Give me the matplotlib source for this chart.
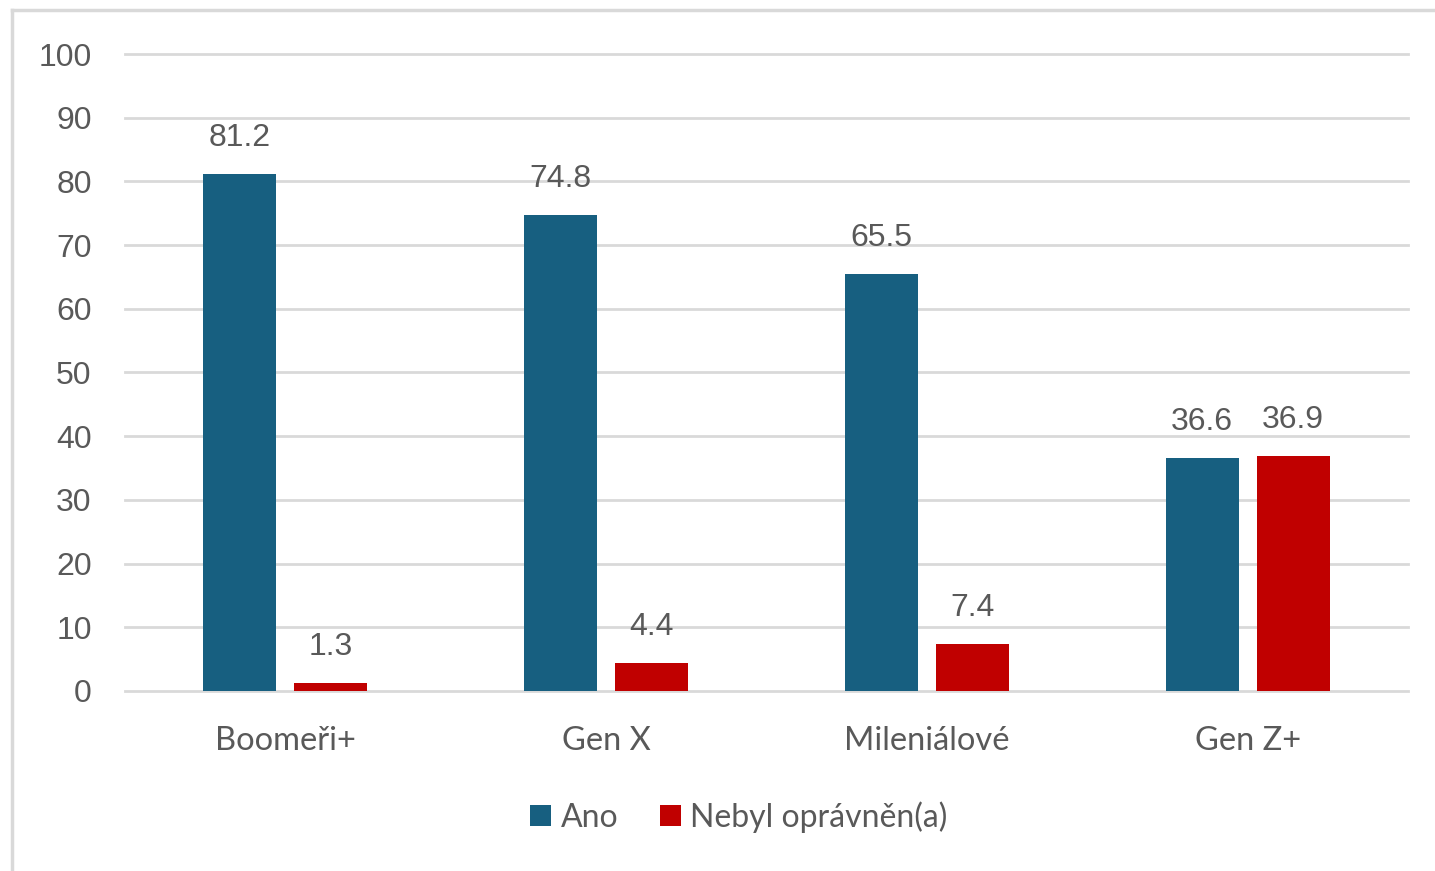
import numpy as np
import matplotlib.pyplot as plt
from matplotlib.lines import Line2D

# === DATA ===
categories = ['Boomeři+', 'Gen X', 'Mileniálové', 'Gen Z+']
ano = [81.2, 74.8, 65.5, 36.6]
nebyl = [1.3, 4.4, 7.4, 36.9]
series_names = ['Ano', 'Nebyl oprávněn(a)']
y_ticks = [0, 10, 20, 30, 40, 50, 60, 70, 80, 90, 100]

# === STYLE ===
plt.rcParams['font.family'] = ['Lato', 'DejaVu Sans']
text_color = '#595959'
grid_color = '#d9d9d9'
colors = ['#175f80', '#c00000']
num_font = ['Liberation Sans', 'DejaVu Sans']

fig = plt.figure(figsize=(14.35, 8.71), dpi=100)
ax = fig.add_axes([0.0871, 0.2067, 0.8941, 0.7313])

x = np.arange(len(categories))
width = 0.228
offset = 0.142

bars_a = ax.bar(x - offset, ano, width, color=colors[0], label=series_names[0], zorder=3)
bars_n = ax.bar(x + offset, nebyl, width, color=colors[1], label=series_names[1], zorder=3)

# value labels above bars
for bars, vals in [(bars_a, ano), (bars_n, nebyl)]:
    for b, v in zip(bars, vals):
        ax.annotate(f'{v:.1f}', (b.get_x() + b.get_width() / 2, v),
                    xytext=(0, 15), textcoords='offset points',
                    ha='center', va='bottom', fontsize=23, color=text_color,
                    family=num_font)

ax.set_xlim(-0.5, len(categories) - 0.5)
ax.set_ylim(0, 100)
ax.set_yticks(y_ticks)
ax.set_yticklabels([str(t) for t in y_ticks], family=num_font, fontsize=23)
ax.set_xticks(x)
ax.set_xticklabels(categories, fontsize=23.5)

for t in y_ticks:
    ax.axhline(t, color=grid_color, linewidth=2.0, zorder=1, clip_on=False)

for side in ['top', 'right', 'left', 'bottom']:
    ax.spines[side].set_visible(False)
ax.tick_params(axis='both', length=0, colors=text_color)
ax.tick_params(axis='y', pad=24)
ax.tick_params(axis='x', pad=25)

# legend below the plot
leg = fig.legend(loc='center', bbox_to_anchor=(0.515, 0.062), ncol=2, frameon=False,
                 fontsize=23, handlelength=0.65, handleheight=0.65, handletextpad=0.3,
                 columnspacing=1.3, labelcolor=text_color)

# chart frame (top and left edges visible in the crop)
fig.add_artist(Line2D([0.0085, 1.0], [0.9885, 0.9885], color=grid_color, linewidth=2.5,
                      transform=fig.transFigure))
fig.add_artist(Line2D([0.0085, 0.0085], [0.0, 0.9885], color=grid_color, linewidth=2.5,
                      transform=fig.transFigure))

fig.savefig('out.png', dpi=100)
